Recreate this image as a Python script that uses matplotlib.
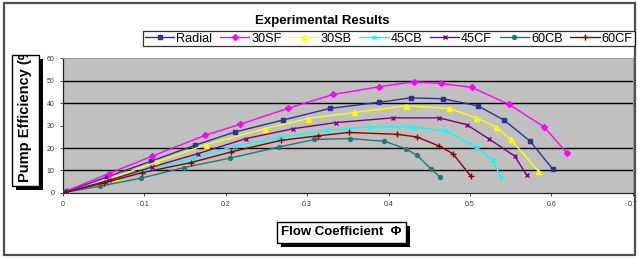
import matplotlib
matplotlib.use("Agg")
import matplotlib.pyplot as plt
import matplotlib.patheffects as pe
from matplotlib.patches import Rectangle
from matplotlib.transforms import Bbox

plt.rcParams['font.family'] = ['Liberation Sans', 'DejaVu Sans']

# flow coefficient / efficiency pairs
radial_x = [0.003, 0.054, 0.108, 0.162, 0.211, 0.270, 0.328, 0.388, 0.427, 0.467, 0.510, 0.542, 0.574, 0.602]
radial_y = [0.5, 7.1, 14.1, 21.2, 27.1, 32.4, 37.6, 40.3, 42.3, 41.9, 38.7, 32.4, 23.0, 10.5]

sf30_x = [0.005, 0.056, 0.109, 0.175, 0.218, 0.276, 0.332, 0.388, 0.431, 0.464, 0.502, 0.548, 0.591, 0.619]
sf30_y = [1.0, 8.6, 16.3, 25.7, 30.6, 37.6, 43.8, 47.2, 49.5, 48.7, 47.0, 39.4, 29.4, 17.9]

sb30_x = [0.005, 0.064, 0.115, 0.176, 0.248, 0.301, 0.358, 0.422, 0.474, 0.508, 0.532, 0.550, 0.584]
sb30_y = [0.0, 7.1, 13.8, 21.5, 28.6, 33.1, 35.8, 38.8, 37.6, 33.4, 29.4, 23.9, 9.7]

cb45_x = [0.005, 0.055, 0.105, 0.160, 0.211, 0.265, 0.324, 0.377, 0.430, 0.471, 0.508, 0.528, 0.538]
cb45_y = [0.0, 5.0, 10.5, 15.5, 20.8, 24.7, 27.9, 29.4, 29.4, 27.5, 20.4, 14.5, 7.1]

cf45_x = [0.005, 0.056, 0.109, 0.166, 0.225, 0.283, 0.335, 0.405, 0.462, 0.496, 0.524, 0.555, 0.570]
cf45_y = [0.5, 5.6, 11.5, 17.5, 24.2, 28.6, 31.3, 33.4, 33.4, 30.4, 23.9, 16.4, 7.8]

cb60_x = [0.003, 0.045, 0.096, 0.149, 0.205, 0.265, 0.309, 0.353, 0.395, 0.421, 0.435, 0.452, 0.463]
cb60_y = [0.3, 3.0, 6.6, 11.3, 15.5, 20.4, 23.8, 24.2, 23.0, 19.7, 16.7, 10.8, 7.1]

cf60_x = [0.003, 0.050, 0.097, 0.157, 0.206, 0.268, 0.313, 0.351, 0.411, 0.435, 0.462, 0.479, 0.501]
cf60_y = [0.3, 4.5, 9.0, 13.5, 18.2, 23.4, 25.4, 26.9, 26.1, 24.9, 20.9, 17.5, 7.5]

series = [
    ("Radial", radial_x, radial_y, "#2e3192", "s", 3.2),
    ("30SF", sf30_x, sf30_y, "#ff00ff", "D", 3.0),
    ("30SB", sb30_x, sb30_y, "#ffff00", "^", 3.6),
    ("45CB", cb45_x, cb45_y, "#00ffff", "x", 3.2),
    ("45CF", cf45_x, cf45_y, "#800080", "x", 3.5),
    ("60CB", cb60_x, cb60_y, "#1f7a73", "o", 2.8),
    ("60CF", cf60_x, cf60_y, "#8b0000", "+", 4.0),
]

W, H = 638, 258
fig = plt.figure(figsize=(W / 100, H / 100), dpi=100)
fig.patch.set_facecolor("white")
fig.patches.append(Rectangle((0.006, 0.012), 0.99, 0.975, transform=fig.transFigure,
                             fill=False, edgecolor="#505050", linewidth=1.6))

ax = fig.add_axes([0.0987, 0.252, 0.893, 0.523])
ax.set_facecolor("#c0c0c0")
# the 30 % gridline is missing in the original
for y in [10, 20, 40, 50]:
    ax.axhline(y, color="black", linewidth=1.0, zorder=1)

for name, xs, ys, c, m, ms in series:
    ax.plot(xs, ys, color=c, marker=m, markersize=ms, linewidth=1.0,
            markeredgewidth=1.0, label=name, zorder=3)

ax.set_xlim(0, 0.7)
ax.set_ylim(0, 60)
ax.set_xticks([0, 0.1, 0.2, 0.3, 0.4, 0.5, 0.6, 0.7])
ax.set_xticklabels(["0", "0.1", "0.2", "0.3", "0.4", "0.5", "0.6", "0.7"])
ax.set_yticks([0, 10, 20, 30, 40, 50, 60])
ax.tick_params(labelsize=5, length=2, width=0.6, pad=4, colors="#333333")
for side in ["top", "right"]:
    ax.spines[side].set_color("#a0a0a0")
    ax.spines[side].set_linewidth(0.8)
for side in ["left", "bottom"]:
    ax.spines[side].set_color("#222222")
    ax.spines[side].set_linewidth(0.9)

fig.text(0.505, 0.92, "Experimental Results", ha="center", va="center",
         fontsize=9.5, fontweight="bold")

leg = fig.legend(loc="center left", bbox_to_anchor=(143 / W, 1 - 38.5 / H), ncol=7,
                 fontsize=9.2, frameon=True, fancybox=False, handlelength=2.3,
                 handletextpad=0.15, columnspacing=0.6, borderpad=0.15, borderaxespad=0)
leg.get_frame().set_edgecolor("black")
leg.get_frame().set_linewidth(0.9)

shadow = [pe.withSimplePatchShadow(offset=(3, -3), shadow_rgbFace="black", alpha=1.0)]

# y label box, text clipped at the top like the original
x0, x1, y0, y1 = 12, 39, 55, 186
ybox = Rectangle((x0 / W, 1 - y1 / H), (x1 - x0) / W, (y1 - y0) / H,
                 transform=fig.transFigure, facecolor="white", edgecolor="black",
                 linewidth=1.0, path_effects=shadow)
fig.patches.append(ybox)
ylab = fig.text((x0 + x1) / 2 / W, 1 - (y1 - 4) / H, "Pump Efficiency (%)", rotation=90,
                ha="center", va="bottom", fontsize=10.5, fontweight="bold")
ylab.set_clip_box(Bbox.from_extents(x0, H - y1, x1, H - y0 - 1))
ylab.set_clip_on(True)

fig.text(0.535, 0.1, "Flow Coefficient  \u03a6", ha="center", va="center",
         fontsize=9.5, fontweight="bold",
         bbox=dict(boxstyle="square,pad=0.35", facecolor="white", edgecolor="black",
                   linewidth=1.0, path_effects=shadow))

fig.savefig("out.png", dpi=100)
